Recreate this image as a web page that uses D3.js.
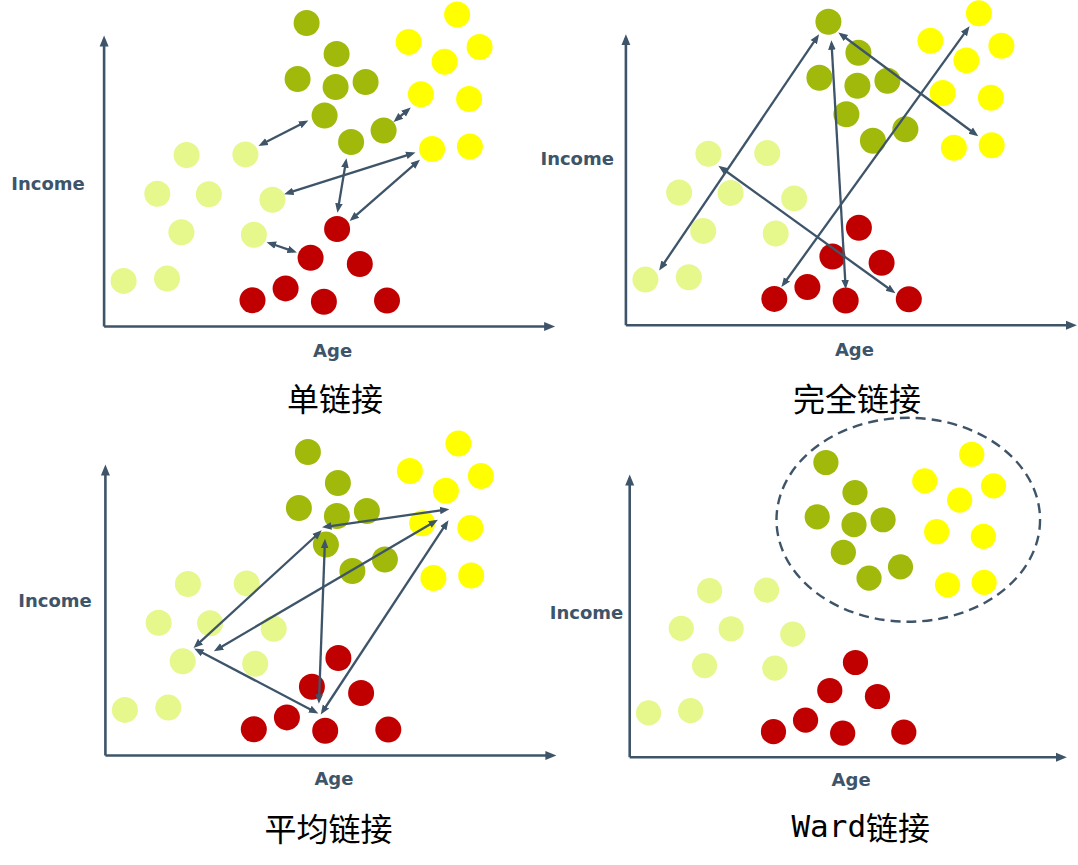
<!DOCTYPE html>
<html><head><meta charset="utf-8">
<script src="https://cdn.jsdelivr.net/npm/d3@7"></script>
<style>html,body{margin:0;padding:0;background:#fff;} svg{display:block;}</style>
</head><body><svg id="c" width="1078" height="865"></svg>
<script>
// ---------- data (Age, Income) in shared diagram units ----------
const darkGreenPoints = [[203,303],[233,272],[194,247],[232,239],[262,244],[221,210.5],[247.5,184],[280,195.5]];
const yellowPoints = [[353.5,311.5],[305,284],[376,279],[341,264.3],[317.3,231.7],[365.5,227],[328.5,177],[366.3,179.5]];
const lightGreenPoints = [[83,171],[141.8,171.6],[53.7,132.2],[105.2,131.8],[168.8,126.3],[77.8,93.8],[150.3,91.2],[20,45.1],[63.4,47.4]];
const redPoints = [[233.5,97],[207,68.2],[256.2,62],[182,37.6],[148.9,25.8],[220.3,24.2],[283.4,25.4]];
const clusterColors = ["#a0b90a","#ffff00","#e6f78b","#c00000"];

const panelTitles = ["单链接","完全链接","平均链接","Ward链接"];
const xAxisTitle = "Age";
const yAxisTitle = "Income";
const ageMax = 447, incomeMax = 287;

// link arrows: [age1, income1, age2, income2]
const singleLinks = [[155.3,180.3,204.3,205.3],[290.3,204.3,306.8,218.3],[181,132,311.4,173.3],[242.8,167.3,233.9,113.7],[316,166,246.4,105.3],[163.5,83.7,192.8,73.7]];
const completeLinks = [[34,54.7,193.4,290],[206,284,220.3,36],[213.3,292,352.5,188.7],[156.3,38,343.8,298],[93.4,158.7,269.6,31.7]];
const averageLinks = [[217.6,227.7,344,245.7],[216.5,224.3,89,107.3],[220.1,215.7,214,51.7],[332.6,235,109.4,104],[89.7,106.3,213,41.7],[343.3,234.3,216.1,41]];
const wardEllipse = [288,244,136,105]; // center age, center income, radius (age), radius (income)

// ---------- layout ----------
const panels = [
  {ox:103.6, oy:326,   kx:1,     ky:1,     income:[48,190],    age:30.7, title:[335,397],   links:singleLinks},
  {ox:625.4, oy:324.7, kx:1,     ky:1,     income:[577.2,165], age:31.3, title:[857,397],   links:completeLinks},
  {ox:104.9, oy:755,   kx:1,     ky:1,     income:[55,607.3],  age:30,   title:[328.6,826.7], links:averageLinks},
  {ox:629.2, oy:756.7, kx:0.969, ky:0.971, income:[586.5,619.3], age:29.3, title:[860.8,826], links:[], ellipse:wardEllipse}
];
const ink = "#3e5469";

const svg = d3.select("#c");
const defs = svg.append("defs");
defs.append("marker").attr("id","ah").attr("markerUnits","userSpaceOnUse")
  .attr("viewBox","0 -5 10 10").attr("refX",6).attr("refY",0)
  .attr("markerWidth",10).attr("markerHeight",10).attr("orient","auto-start-reverse")
  .append("path").attr("d","M0,-3.8L9.5,0L0,3.8Z").attr("fill",ink);
defs.append("marker").attr("id","axh").attr("markerUnits","userSpaceOnUse")
  .attr("viewBox","0 -6 12 12").attr("refX",7).attr("refY",0)
  .attr("markerWidth",12).attr("markerHeight",12).attr("orient","auto")
  .append("path").attr("d","M0,-4.5L11,0L0,4.5Z").attr("fill",ink);

const clusters = [darkGreenPoints, yellowPoints, lightGreenPoints, redPoints];

panels.forEach((p, i) => {
  const x = d3.scaleLinear().domain([0, ageMax]).range([p.ox, p.ox + ageMax * p.kx]);
  const y = d3.scaleLinear().domain([0, incomeMax]).range([p.oy, p.oy - incomeMax * p.ky]);
  const g = svg.append("g");

  const xa = g.append("g").attr("transform", `translate(0,${p.oy})`)
    .call(d3.axisBottom(x).ticks(0).tickSizeOuter(0));
  const ya = g.append("g").attr("transform", `translate(${p.ox},0)`)
    .call(d3.axisLeft(y).ticks(0).tickSizeOuter(0));
  [xa, ya].forEach(a => a.select(".domain").attr("stroke", ink).attr("stroke-width", 2.6)
    .attr("marker-end", "url(#axh)"));

  if (p.ellipse) {
    const [ca, ci, ra, ri] = p.ellipse;
    g.append("ellipse").attr("cx", x(ca)).attr("cy", y(ci))
      .attr("rx", x(ca + ra) - x(ca)).attr("ry", y(ci) - y(ci + ri))
      .attr("fill", "none").attr("stroke", ink).attr("stroke-width", 2.4)
      .attr("stroke-dasharray", "10,6");
  }

  const r = 13 * p.kx;
  clusters.forEach((pts, ci) => {
    g.selectAll(null).data(pts).enter().append("circle")
      .attr("cx", d => x(d[0])).attr("cy", d => y(d[1])).attr("r", r)
      .attr("fill", clusterColors[ci]);
  });

  p.links.forEach(l => {
    let x1 = x(l[0]), y1 = y(l[1]), x2 = x(l[2]), y2 = y(l[3]);
    const len = Math.hypot(x2 - x1, y2 - y1), ux = (x2 - x1) / len, uy = (y2 - y1) / len, s = 3;
    g.append("line").attr("x1", x1 + ux * s).attr("y1", y1 + uy * s)
      .attr("x2", x2 - ux * s).attr("y2", y2 - uy * s)
      .attr("stroke", ink).attr("stroke-width", 2.3)
      .attr("marker-start", "url(#ah)").attr("marker-end", "url(#ah)");
  });

  g.append("text").attr("x", p.income[0]).attr("y", p.income[1])
    .attr("text-anchor", "middle").attr("font-family", "DejaVu Sans").attr("font-weight", "bold")
    .attr("font-size", 18).attr("fill", ink).text(yAxisTitle);
  g.append("text").attr("x", x(229)).attr("y", p.oy + p.age)
    .attr("text-anchor", "middle").attr("font-family", "DejaVu Sans").attr("font-weight", "bold")
    .attr("font-size", 18).attr("fill", ink).text(xAxisTitle);

  const t = g.append("text").attr("x", p.title[0]).attr("y", p.title[1])
    .attr("text-anchor", "middle").attr("dominant-baseline", "central")
    .attr("font-family", "'Noto Sans CJK SC'").attr("font-size", 32).attr("fill", "#000");
  const title = panelTitles[i];
  const m = title.match(/^([A-Za-z]+)(.*)$/);
  if (m) {
    t.append("tspan").attr("font-family", "'DejaVu Sans Mono'").attr("font-size", 31).text(m[1]);
    t.append("tspan").text(m[2]);
  } else {
    t.text(title);
  }
});
</script>
</body></html>
